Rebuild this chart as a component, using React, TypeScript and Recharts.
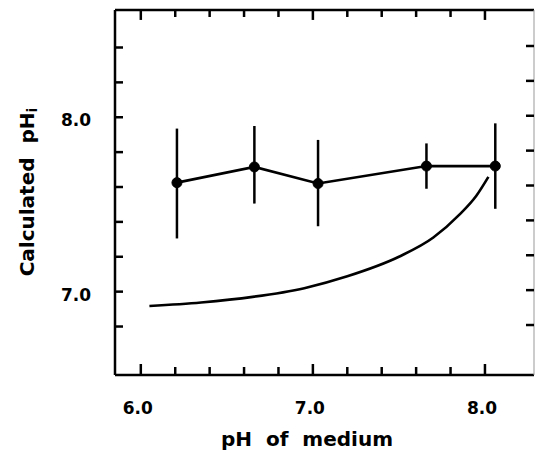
import { ComposedChart, ErrorBar, Label, Line, ReferenceLine, XAxis, YAxis } from "recharts";

// measured points: pH of medium vs calculated pHi
const mediumPh = [6.21, 6.66, 7.03, 7.66, 8.06];
const calculatedPhi = [7.625, 7.715, 7.62, 7.72, 7.72];
const errMinus = [0.32, 0.21, 0.245, 0.13, 0.245];
const errPlus = [0.31, 0.235, 0.25, 0.13, 0.245];

// theoretical curve
const curvePh = [6.05, 6.35, 6.65, 6.95, 7.2, 7.5, 7.7, 7.85, 7.95, 8.02];
const curvePhi = [6.918, 6.938, 6.97, 7.02, 7.088, 7.2, 7.31, 7.44, 7.55, 7.658];

const xTicks = [6.0, 6.2, 6.4, 6.6, 6.8, 7.0, 7.2, 7.4, 7.6, 7.8, 8.0];
const yTicks = [6.8, 7.0, 7.2, 7.4, 7.6, 7.8, 8.0, 8.2, 8.4];
const xLabels = [6.0, 7.0, 8.0];
const yLabels = [7.0, 8.0];

const X_DOMAIN = [5.85, 8.285];
const Y_DOMAIN = [6.522, 8.615];

const isLabel = (list: number[], v: number) => list.some((l) => Math.abs(l - v) < 1e-6);

const points = mediumPh.map((x, i) => ({ x, y: calculatedPhi[i], err: [errMinus[i], errPlus[i]] }));
const curve = curvePh.map((x, i) => ({ x, c: curvePhi[i] }));

const W = 535;
const H = 453;
const LEFT = 115;
const TOP = 10;
const RIGHT = 534;
const BOTTOM = 375;
const FONT = "DejaVu Sans";

const BottomTick = ({ x, payload }: any) => {
  if (!isLabel(xLabels, payload.value)) return <g />;
  return (
    <text x={x - 3} y={414} textAnchor="middle" fontFamily={FONT} fontSize={17} fontWeight="bold" fill="#000">
      {payload.value.toFixed(1)}
    </text>
  );
};

const LeftTick = ({ y, payload }: any) => {
  const major = isLabel(yLabels, payload.value);
  return (
    <g>
      <line x1={LEFT} x2={LEFT + 8} y1={y} y2={y} stroke="#000" strokeWidth={2.5} />
      <line x1={RIGHT} x2={RIGHT - 8} y1={y - 1.5} y2={y - 1.5} stroke="#000" strokeWidth={2.5} />
      {major && (
        <text x={91} y={y + 9} textAnchor="end" fontFamily={FONT} fontSize={17} fontWeight="bold" fill="#000">
          {payload.value.toFixed(1)}
        </text>
      )}
    </g>
  );
};

export default function App() {
  return (
    <div style={{ position: "absolute", left: 0, top: 0, background: "#fff" }}>
      <ComposedChart width={W} height={H} margin={{ top: TOP - 1, right: W - RIGHT - 1, bottom: 0, left: 0 }}>
        <XAxis
          xAxisId="b"
          type="number"
          dataKey="x"
          domain={X_DOMAIN}
          ticks={xTicks}
          interval={0}
          allowDataOverflow
          height={H - BOTTOM}
          axisLine={{ stroke: "#000", strokeWidth: 2.5 }}
          tickLine={false}
          tick={<BottomTick />}
        >
          <Label
            content={() => (
              <text x={307} y={446} textAnchor="middle" fontFamily={FONT} fontSize={20} fontWeight="bold" fill="#000" style={{ whiteSpace: "pre" }}>
                {"pH  of  medium"}
              </text>
            )}
          />
        </XAxis>
        <XAxis
          xAxisId="t"
          orientation="top"
          type="number"
          dataKey="x"
          domain={X_DOMAIN}
          height={1}
          axisLine={{ stroke: "#000", strokeWidth: 2.5 }}
          tickLine={false}
          tick={false}
        />
        <YAxis
          yAxisId="l"
          type="number"
          domain={Y_DOMAIN}
          ticks={yTicks}
          interval={0}
          allowDataOverflow
          width={LEFT}
          axisLine={{ stroke: "#000", strokeWidth: 2.5 }}
          tickLine={false}
          tick={<LeftTick />}
        >
          <Label
            content={() => (
              <text
                x={34}
                y={192}
                transform="rotate(-90, 34, 192)"
                textAnchor="middle"
                fontFamily={FONT}
                fontSize={20}
                fontWeight="bold"
                fill="#000"
                style={{ whiteSpace: "pre" }}
              >
                {"Calculated  pH"}
                <tspan fontSize={14} dy={3}>i</tspan>
              </text>
            )}
          />
        </YAxis>
        <YAxis
          yAxisId="r"
          orientation="right"
          type="number"
          domain={Y_DOMAIN}
          width={1}
          axisLine={{ stroke: "#999", strokeWidth: 1 }}
          tickLine={false}
          tick={false}
        />
        {/* inward tick marks on the bottom and top frame lines */}
        {xTicks.map((v) => (
          <ReferenceLine
            key={`b${v}`}
            xAxisId="b"
            yAxisId="l"
            ifOverflow="visible"
            segment={[
              { x: v, y: Y_DOMAIN[0] },
              { x: v, y: Y_DOMAIN[0] + (isLabel(xLabels, v) ? 0.063 : 0.046) },
            ]}
            stroke="#000"
            strokeWidth={2.5}
          />
        ))}
        {xTicks.map((v) => (
          <ReferenceLine
            key={`t${v}`}
            xAxisId="b"
            yAxisId="l"
            ifOverflow="visible"
            segment={[
              { x: v, y: Y_DOMAIN[1] },
              { x: v, y: Y_DOMAIN[1] - (isLabel(xLabels, v) ? 0.057 : 0.04) },
            ]}
            stroke="#000"
            strokeWidth={2.5}
          />
        ))}
        <Line
          xAxisId="b"
          yAxisId="l"
          data={curve}
          dataKey="c"
          type="monotone"
          stroke="#000"
          strokeWidth={2.6}
          dot={false}
          isAnimationActive={false}
        />
        <Line
          xAxisId="b"
          yAxisId="l"
          data={points}
          dataKey="y"
          type="linear"
          stroke="#000"
          strokeWidth={2.6}
          dot={{ r: 5, fill: "#000", stroke: "#000", strokeWidth: 1 }}
          isAnimationActive={false}
        >
          <ErrorBar dataKey="err" direction="y" width={0} stroke="#000" strokeWidth={2.5} />
        </Line>
      </ComposedChart>
    </div>
  );
}
